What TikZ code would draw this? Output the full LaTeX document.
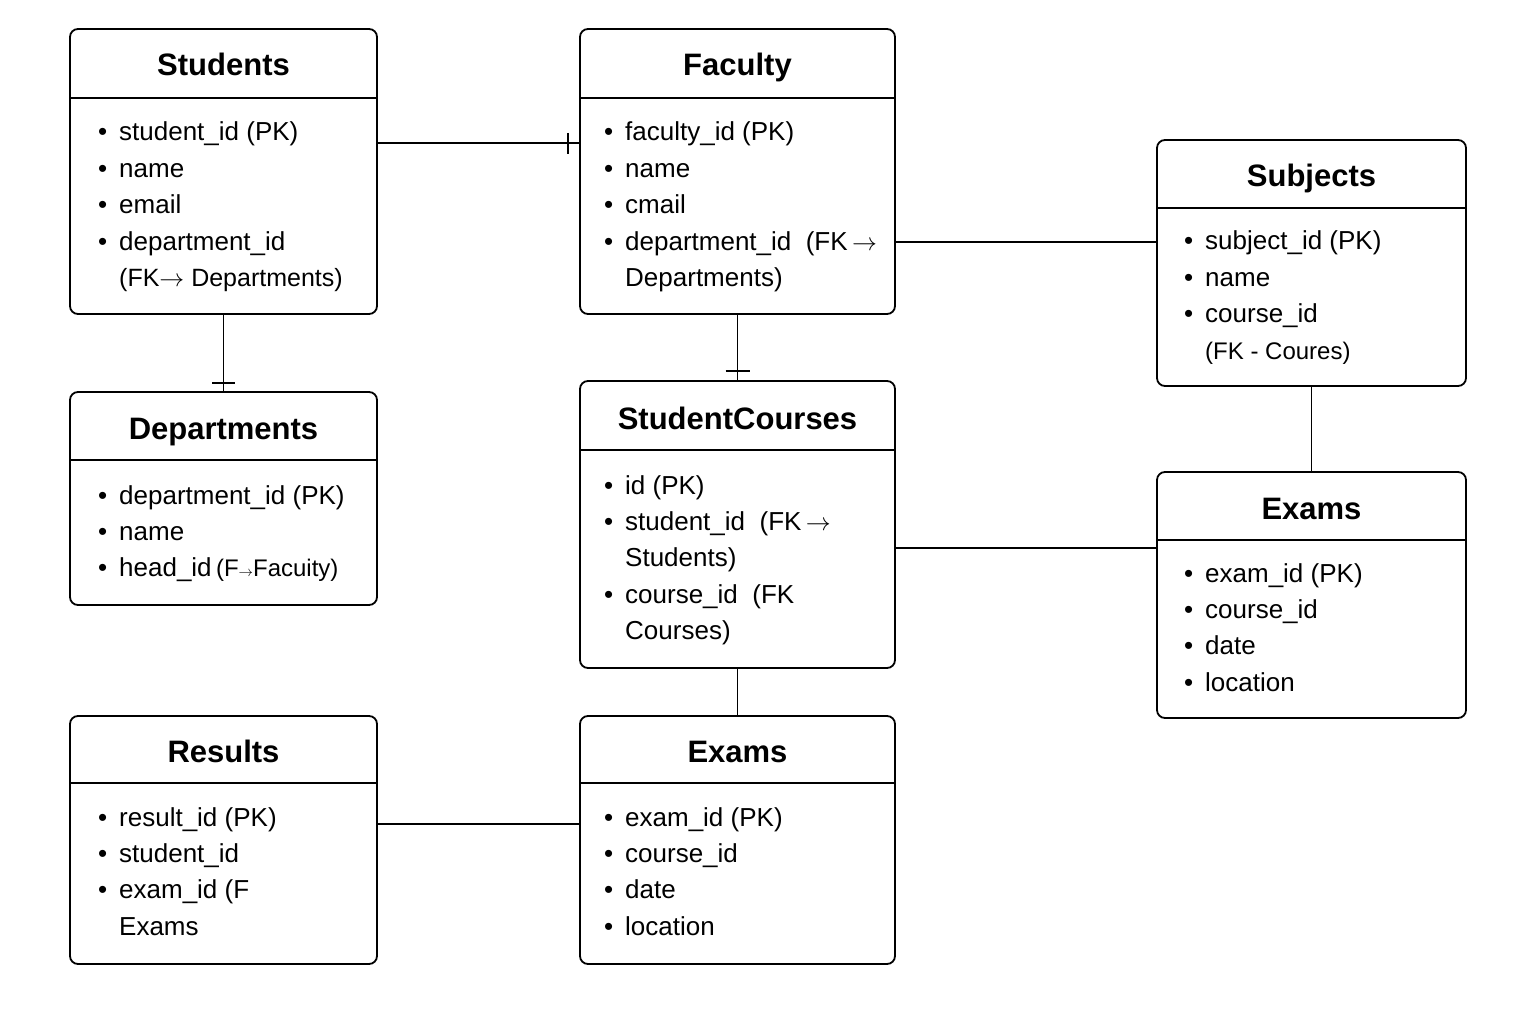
\documentclass[tikz,border=0pt]{standalone}
\usepackage{fontspec}
\setmainfont{Liberation Sans}
\usetikzlibrary{calc}
\newcommand\bl{\llap{\textbullet\hspace{12pt}}}
\newcommand\erarr{\,$\rightarrow$}
\newcommand\erarrn{$\rightarrow$}
\newcommand\erarrs{{\fontsize{15}{15}\selectfont$\rightarrow$}}
\newcommand\erbody[4]{\foreach \t [count=\i] in {#4}{\node[bodytxt] (#1-\i) at (#2,{#3+36.4*(\i-1)}) {\t};}}
\newcommand\erbox[8]{% name, cx, cy, w, h, header y, title baseline, title
  \node[ebox, minimum width=#4pt, minimum height=#5pt] (#1) at (#2,#3) {};
  \draw[hdr] (#1.west |- 0,#6) -- (#1.east |- 0,#6);
  \node[ttl] (#1-t) at (#1.center |- 0,#7) {#8};
}
\tikzset{
  ebox/.style={draw, line width=1.8pt, rounded corners=8pt, inner sep=0pt, outer sep=0pt, fill=white},
  hdr/.style={line width=1.8pt},
  ttl/.style={anchor=base, font=\fontsize{31}{36}\selectfont\bfseries, inner sep=0pt},
  bodytxt/.style={anchor=base west, font=\fontsize{26}{30}\selectfont, inner sep=0pt},
  conn/.style={line width=1.6pt}
}
\begin{document}
\begin{tikzpicture}[x=1pt, y=-1pt]
\useasboundingbox[fill=white] (0,0) rectangle (1536,1024);

% entities
\erbox{students}{223.5}{171.5}{307}{285}{98}{76}{Students}
\erbody{students}{119}{141}{\bl student\_id (PK), \bl name, \bl email, \bl department\_id, {\fontsize{25}{30}\selectfont(FK\erarrn\ Departments)}}

\erbox{faculty}{737.5}{171.5}{315}{285}{98}{76}{Faculty}
\erbody{faculty}{625}{141}{\bl faculty\_id (PK), \bl name, \bl cmail, \bl department\_id\ \ (FK\erarr, Departments)}

\erbox{subjects}{1311.5}{263}{309}{246}{208}{187}{Subjects}
\erbody{subjects}{1205}{250}{\bl subject\_id (PK), \bl name, \bl course\_id, {\fontsize{24}{28}\selectfont (FK - Coures)}}

\erbox{departments}{223.5}{498.5}{307}{213}{460}{439}{Departments}
\erbody{departments}{119}{504}{\bl department\_id (PK), \bl name, \bl head\_id\,{\fontsize{24}{28}\selectfont(F\erarrs Facuity)}}

\erbox{studentcourses}{737.5}{524.5}{315}{287}{450}{429}{StudentCourses}
\erbody{studentcourses}{625}{494}{\bl id (PK), \bl student\_id\ \ (FK\erarr, Students), \bl course\_id\ \ (FK, Courses)}

\erbox{examsr}{1311.5}{595}{309}{246}{540}{519}{Exams}
\erbody{examsr}{1205}{582}{\bl exam\_id (PK), \bl course\_id, \bl date, \bl location}

\erbox{results}{223.5}{840}{307}{248}{783}{762}{Results}
\erbody{results}{119}{826}{\bl result\_id (PK), \bl student\_id, \bl exam\_id (F, Exams}

\erbox{examsb}{737.5}{840}{315}{248}{783}{762}{Exams}
\erbody{examsb}{625}{826}{\bl exam\_id (PK), \bl course\_id, \bl date, \bl location}

% connectors
\coordinate (sfR) at (faculty.west |- 0,143);
\draw[conn] (students.east |- sfR) -- (sfR);
\draw[conn] ($(sfR)+(-12,-10)$) -- ($(sfR)+(-12,11)$);

\coordinate (sdB) at (departments.north);
\draw[conn] (students.south) -- (sdB);
\draw[conn] ($(sdB)+(-11.5,-9)$) -- ($(sdB)+(11.5,-9)$);

\coordinate (fsB) at (studentcourses.north);
\draw[conn] (faculty.south) -- (fsB);
\draw[conn] ($(fsB)+(-12,-10)$) -- ($(fsB)+(12,-10)$);

\coordinate (fsuR) at (subjects.west |- 0,242);
\draw[conn] (faculty.east |- fsuR) -- (fsuR);

\draw[conn] (subjects.south) -- (examsr.north);

\coordinate (scR) at (examsr.west |- 0,548);
\draw[conn] (studentcourses.east |- scR) -- (scR);

\draw[conn] (studentcourses.south) -- (examsb.north);

\coordinate (reR) at (examsb.west |- 0,824);
\draw[conn] (results.east |- reR) -- (reR);
\end{tikzpicture}
\end{document}
